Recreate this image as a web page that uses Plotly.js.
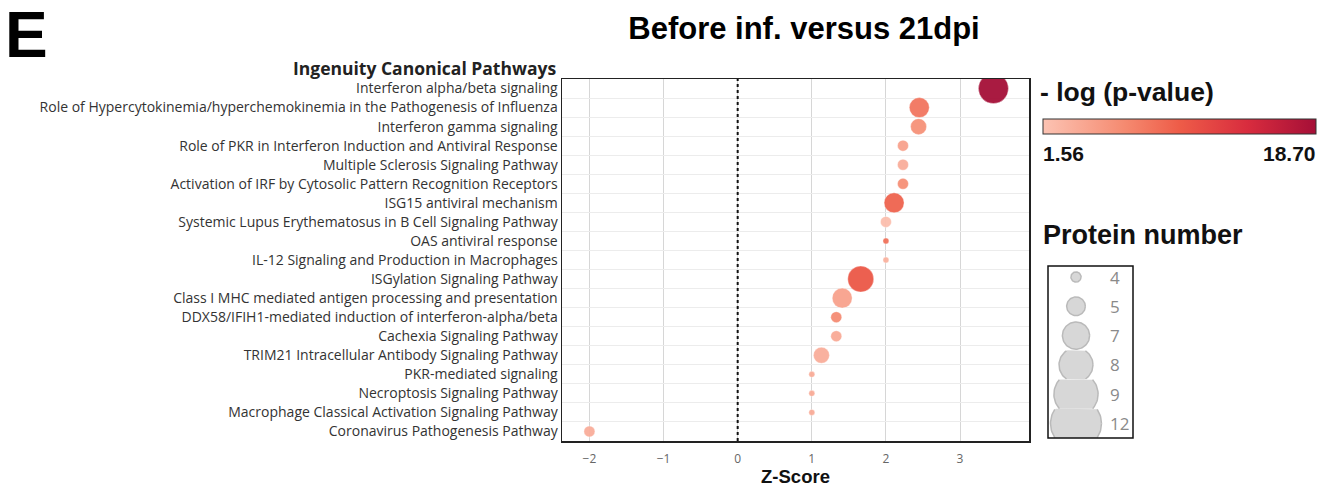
<!DOCTYPE html>
<html>
<head>
<meta charset="utf-8">
<script src="https://cdn.plot.ly/plotly-3.0.1.min.js"></script>
<style>
  html, body { margin: 0; padding: 0; background: #fff; }
  #chart { width: 1336px; height: 487px; }
</style>
</head>
<body>
<div id="chart"></div>
<script>
// ---------------- data ----------------
const categories = [
  "Interferon alpha/beta signaling",
  "Role of Hypercytokinemia/hyperchemokinemia in the Pathogenesis of Influenza",
  "Interferon gamma signaling",
  "Role of PKR in Interferon Induction and Antiviral Response",
  "Multiple Sclerosis Signaling Pathway",
  "Activation of IRF by Cytosolic Pattern Recognition Receptors",
  "ISG15 antiviral mechanism",
  "Systemic Lupus Erythematosus in B Cell Signaling Pathway",
  "OAS antiviral response",
  "IL-12 Signaling and Production in Macrophages",
  "ISGylation Signaling Pathway",
  "Class I MHC mediated antigen processing and presentation",
  "DDX58/IFIH1-mediated induction of interferon-alpha/beta",
  "Cachexia Signaling Pathway",
  "TRIM21 Intracellular Antibody Signaling Pathway",
  "PKR-mediated signaling",
  "Necroptosis Signaling Pathway",
  "Macrophage Classical Activation Signaling Pathway",
  "Coronavirus Pathogenesis Pathway"
];
const zScores = [3.45, 2.45, 2.44, 2.23, 2.23, 2.23, 2.11, 2.0, 2.0, 2.0, 1.66, 1.41, 1.33, 1.33, 1.13, 1.0, 1.0, 1.0, -2.0];
const negLogP = [18.70, 8.2, 6.0, 4.5, 3.5, 6.2, 9.5, 2.0, 8.5, 3.0, 10.5, 4.5, 6.5, 3.8, 3.5, 3.6, 3.6, 3.6, 3.5];
const proteinCounts = [12, 8, 7, 5, 5, 5, 8, 5, 4, 4, 9, 8, 5, 5, 7, 4, 4, 4, 5];
const sizeLegendValues = [4, 5, 7, 8, 9, 12];
const colorRange = [1.56, 18.70];
const xTickValues = [-2, -1, 0, 1, 2, 3];

// ---------------- styles / geometry ----------------
const W = 1336, H = 487;
const M = { l: 562, r: 8, t: 79, b: 46 };
const PW = W - M.l - M.r, PH = H - M.t - M.b;
const px2p = px => (px - M.l) / PW;
const py2p = py => (H - M.b - py) / PH;

const sizeMap = { 4: 6, 5: 11, 7: 16, 8: 20, 9: 26, 12: 30 };
const legendScale = 1.7;
const colorscale = [
  [0, '#fcc3b3'], [0.3, '#f58a70'], [0.5, '#ee5c48'], [0.75, '#d82c3e'], [1, '#a50f37']
];
const labelFont = 'Open Sans, Noto Sans, sans-serif';
const boldFont = 'Liberation Sans, Arial, sans-serif';

const mainTrace = {
  type: 'scatter', mode: 'markers',
  x: zScores, y: categories,
  xaxis: 'x', yaxis: 'y',
  marker: {
    size: proteinCounts.map(v => sizeMap[v]),
    sizemode: 'diameter',
    color: negLogP,
    cmin: colorRange[0], cmax: colorRange[1],
    colorscale: colorscale,
    opacity: 0.95,
    line: { width: 0.6, color: 'rgba(255,255,255,0.6)' },
    showscale: true,
    colorbar: {
      orientation: 'h',
      x: px2p(1043), xanchor: 'left',
      y: py2p(119), yanchor: 'top',
      len: 273, lenmode: 'pixels',
      thickness: 15, thicknessmode: 'pixels',
      outlinewidth: 1, outlinecolor: '#333',
      showticklabels: false, ticks: '',
      xpad: 0, ypad: 0
    }
  },
  hoverinfo: 'x+y', showlegend: false
};

// ---------- size legend (pixel-unit subplot x2/y2, rows clipped to their band) ----------
const legX0 = 1048, legX1 = 1133, legY0 = 266, legY1 = 438;
const legFirstCenter = 277, legRow = 29.3, legCx = 28, legLabelX = 60;
const traces = [mainTrace];
const annotations = [];
sizeLegendValues.forEach((v, i) => {
  const cy = legFirstCenter + i * legRow;
  const r = sizeMap[v] * legendScale / 2;
  const lo = Math.max(cy - legRow / 2, legY0), hi = Math.min(cy + legRow / 2, legY1);
  const fx = [], fy = [], ox = [], oy = [];
  const N = 96;
  for (let k = 0; k <= N; k++) {
    const t = 2 * Math.PI * k / N;
    const x = legCx + r * Math.cos(t), yRaw = cy + r * Math.sin(t);
    const y = Math.min(hi, Math.max(lo, yRaw));
    fx.push(x); fy.push(y);
    if (yRaw >= lo && yRaw <= hi) { ox.push(x); oy.push(yRaw); }
    else { ox.push(null); oy.push(null); }
  }
  traces.push({
    type: 'scatter', mode: 'lines', x: fx, y: fy, xaxis: 'x2', yaxis: 'y2',
    fill: 'toself', fillcolor: '#d7d7d7', line: { width: 0 },
    hoverinfo: 'skip', showlegend: false
  });
  traces.push({
    type: 'scatter', mode: 'lines', x: ox, y: oy, xaxis: 'x2', yaxis: 'y2',
    connectgaps: false, line: { width: 1.5, color: '#bababa' },
    hoverinfo: 'skip', showlegend: false
  });
  annotations.push({
    xref: 'x2', yref: 'y2', x: legLabelX, y: cy,
    xanchor: 'left', yanchor: 'middle', showarrow: false,
    text: String(v),
    font: { family: labelFont, size: 17, color: '#8a8a8a' }
  });
});

annotations.push(
  { xref: 'paper', yref: 'paper', x: px2p(3), y: py2p(35), xanchor: 'left', yanchor: 'middle',
    showarrow: false, text: '<b>E</b>', font: { family: boldFont, size: 64, color: '#000' } },
  { xref: 'paper', yref: 'paper', x: px2p(558), y: py2p(68), xanchor: 'right', yanchor: 'middle',
    showarrow: false, text: '<b>Ingenuity Canonical Pathways</b>', font: { family: labelFont, size: 17.5, color: '#222' } },
  { xref: 'paper', yref: 'paper', x: px2p(1038), y: py2p(92), xanchor: 'left', yanchor: 'middle',
    showarrow: false, text: '<b>- log (p-value)</b>', font: { family: boldFont, size: 26.5, color: '#111' } },
  { xref: 'paper', yref: 'paper', x: px2p(1041), y: py2p(153), xanchor: 'left', yanchor: 'middle',
    showarrow: false, text: '<b>' + colorRange[0].toFixed(2) + '</b>', font: { family: boldFont, size: 21, color: '#111' } },
  { xref: 'paper', yref: 'paper', x: px2p(1318), y: py2p(153), xanchor: 'right', yanchor: 'middle',
    showarrow: false, text: '<b>' + colorRange[1].toFixed(2) + '</b>', font: { family: boldFont, size: 21, color: '#111' } },
  { xref: 'paper', yref: 'paper', x: px2p(1041), y: py2p(235), xanchor: 'left', yanchor: 'middle',
    showarrow: false, text: '<b>Protein number</b>', font: { family: boldFont, size: 27, color: '#111' } }
);

const layout = {
  width: W, height: H,
  margin: M,
  paper_bgcolor: '#fff', plot_bgcolor: '#fff',
  showlegend: false,
  title: {
    text: '<b>Before inf. versus 21dpi</b>',
    x: 804 / W, xref: 'container', xanchor: 'center',
    y: 1 - 28 / H, yref: 'container', yanchor: 'middle',
    font: { family: boldFont, size: 31, color: '#000' }
  },
  xaxis: {
    domain: [0, px2p(1029)],
    range: [-2.37, 3.93],
    tickmode: 'array', tickvals: xTickValues,
    showgrid: true, gridcolor: '#d6d6d6', gridwidth: 1,
    zeroline: false,
    showline: true, mirror: true, linecolor: '#222', linewidth: 1.5,
    ticks: 'outside', ticklen: 6, tickcolor: 'rgba(0,0,0,0)',
    tickfont: { family: labelFont, size: 12, color: '#666' },
    title: { text: '<b>Z-Score</b>', font: { family: boldFont, size: 18.5, color: '#111' }, standoff: 8 },
    anchor: 'y', fixedrange: true
  },
  yaxis: {
    type: 'category', categoryorder: 'array', categoryarray: categories,
    range: [categories.length - 0.5, -0.5],
    tickson: 'boundaries',
    showgrid: true, gridcolor: '#ececec', gridwidth: 1,
    zeroline: false,
    showline: true, mirror: true, linecolor: '#222', linewidth: 1.5,
    ticks: '',
    tickfont: { family: labelFont, size: 14, color: '#333' },
    anchor: 'x', fixedrange: true
  },
  xaxis2: {
    domain: [px2p(legX0), px2p(legX1)], range: [0, legX1 - legX0],
    visible: false, fixedrange: true, anchor: 'y2'
  },
  yaxis2: {
    domain: [py2p(legY1), py2p(legY0)], range: [legY1, legY0],
    visible: false, fixedrange: true, anchor: 'x2'
  },
  shapes: [
    { type: 'line', xref: 'x', yref: 'paper', x0: 0, x1: 0, y0: 0, y1: 1,
      line: { color: '#111', width: 2, dash: 'dot' } },
    { type: 'rect', xref: 'paper', yref: 'paper',
      x0: px2p(legX0), x1: px2p(legX1), y0: py2p(legY1), y1: py2p(legY0),
      line: { color: '#111', width: 1.5 }, fillcolor: 'rgba(0,0,0,0)' }
  ],
  annotations: annotations
};

Plotly.newPlot('chart', traces, layout, { displayModeBar: false, staticPlot: true });
</script>
</body>
</html>
